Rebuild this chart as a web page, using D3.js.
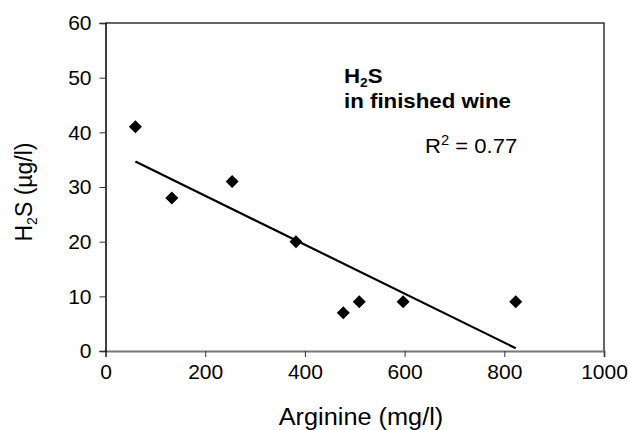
<!DOCTYPE html>
<html>
<head>
<meta charset="utf-8">
<script src="https://cdn.jsdelivr.net/npm/d3@7"></script>
<style>
  body { margin: 0; background: #fff; }
  svg { display: block; font-family: "Liberation Sans", Arial, sans-serif; }
</style>
</head>
<body>
<svg id="chart" width="628" height="430"></svg>
<script>
var arginine = [60, 133, 254, 382, 477, 509, 597, 823];
var h2s = [41, 28, 31, 20, 7, 9, 9, 9];
var xTicks = [0, 200, 400, 600, 800, 1000];
var yTicks = [0, 10, 20, 30, 40, 50, 60];

var svg = d3.select('#chart');
var margin = {left: 105.5, right: 24, top: 23, bottom: 79};
var w = 628 - margin.left - margin.right,
    h = 430 - margin.top - margin.bottom;

var x = d3.scaleLinear().domain([0, 1000]).range([0, w]);
var y = d3.scaleLinear().domain([0, 60]).range([h, 0]);

// some labels in the source are drawn a little wider than the font
function widen(sel, k) {
  sel.each(function() {
    var len = this.getComputedTextLength();
    d3.select(this).attr('textLength', len * k).attr('lengthAdjust', 'spacingAndGlyphs');
  });
}

var g = svg.append('g').attr('transform', 'translate(' + margin.left + ',' + margin.top + ')');

// plot area box (top and right)
g.append('path')
  .attr('d', 'M0,0H' + w + 'V' + h)
  .attr('fill', 'none').attr('stroke', '#333').attr('stroke-width', 1.5);

var xAxis = g.append('g').attr('transform', 'translate(0,' + h + ')')
  .call(d3.axisBottom(x).tickValues(xTicks).tickSize(6).tickPadding(7).tickFormat(d3.format('d')));
xAxis.select('.domain').attr('stroke', '#777').attr('stroke-width', 2);
xAxis.selectAll('.tick line').attr('stroke', '#333');
xAxis.selectAll('text').attr('font-size', 21).attr('fill', '#000');

var yAxis = g.append('g')
  .call(d3.axisLeft(y).tickValues(yTicks).tickSize(6).tickPadding(8).tickFormat(d3.format('d')));
yAxis.select('.domain').attr('stroke', '#000').attr('stroke-width', 1.5);
yAxis.selectAll('.tick line').attr('stroke', '#333');
yAxis.selectAll('text').attr('font-size', 21).attr('fill', '#000');

// least squares trend line
var mx = d3.mean(arginine), my = d3.mean(h2s);
var sxy = d3.sum(arginine, function(d, i) { return (d - mx) * (h2s[i] - my); });
var sxx = d3.sum(arginine, function(d) { return (d - mx) * (d - mx); });
var slope = sxy / sxx, icpt = my - slope * mx;
var xr = d3.extent(arginine);
g.append('line')
  .attr('x1', x(xr[0])).attr('y1', y(icpt + slope * xr[0]))
  .attr('x2', x(xr[1])).attr('y2', y(icpt + slope * xr[1]))
  .attr('stroke', '#000').attr('stroke-width', 2.2);

// diamonds
g.selectAll('.pt').data(arginine).enter().append('path')
  .attr('class', 'pt')
  .attr('d', 'M0,-6.5L6.5,0L0,6.5L-6.5,0Z')
  .attr('transform', function(d, i) { return 'translate(' + x(d) + ',' + y(h2s[i]) + ')'; })
  .attr('fill', '#000');

// axis titles
var xl = svg.append('text')
  .attr('x', 361).attr('y', 425)
  .attr('text-anchor', 'middle').attr('font-size', 23)
  .text('Arginine (mg/l)');
widen(xl, 1.1);

var yl = svg.append('text')
  .attr('transform', 'translate(32,' + (margin.top + h / 2 + 5) + ') rotate(-90)')
  .attr('text-anchor', 'middle').attr('font-size', 23);
yl.append('tspan').text('H');
yl.append('tspan').attr('font-size', 14).attr('dy', 5).text('2');
yl.append('tspan').attr('dy', -5).text('S (\u00b5g/l)');

// annotation
var ann = svg.append('text').attr('x', 344).attr('y', 83)
  .attr('font-size', 21).attr('font-weight', 'bold');
ann.append('tspan').text('H');
ann.append('tspan').attr('font-size', 13).attr('dy', 4).text('2');
ann.append('tspan').attr('dy', -4).text('S');
widen(ann, 1.06);
var ann2 = svg.append('text').attr('x', 344).attr('y', 108)
  .attr('font-size', 21).attr('font-weight', 'bold').text('in finished wine');
widen(ann2, 1.06);

var r2 = svg.append('text').attr('x', 425).attr('y', 153).attr('font-size', 21);
r2.append('tspan').text('R');
r2.append('tspan').attr('font-size', 14).attr('dy', -8).text('2');
r2.append('tspan').attr('dy', 8).text(' = 0.77');
widen(r2, 1.05);
</script>
</body>
</html>
